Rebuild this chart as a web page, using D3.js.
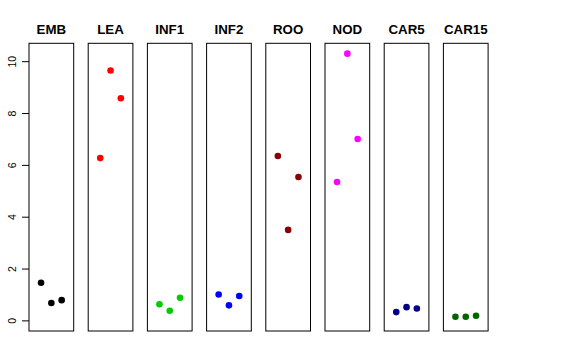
<!DOCTYPE html>
<html>
<head>
<meta charset="utf-8">
<script src="https://cdn.jsdelivr.net/npm/d3@7"></script>
<style>
  body { margin: 0; background: #fff; }
  svg { display: block; }
</style>
</head>
<body>
<div class="chart"></div>
<script>
// tissues shown as panels, three replicates each
var tissues = ["EMB", "LEA", "INF1", "INF2", "ROO", "NOD", "CAR5", "CAR15"];
var colors = ["#000000", "#ff0000", "#00cd00", "#0000ff", "#8b0000", "#ff00ff", "#00008b", "#006400"];
var reps = ["1", "2", "3"];
var values = [
  [1.45, 0.67, 0.78],
  [6.26, 9.64, 8.57],
  [0.62, 0.37, 0.87],
  [1.00, 0.58, 0.94],
  [6.34, 3.49, 5.53],
  [5.34, 10.29, 7.00],
  [0.32, 0.51, 0.46],
  [0.14, 0.14, 0.18]
];
var yTicks = [0, 2, 4, 6, 8, 10];

var svgWidth = 576, svgHeight = 360;
var plotTop = 43.3, plotBottom = 331;

var svg = d3.select(".chart")
  .append("svg")
  .attr("width", svgWidth)
  .attr("height", svgHeight);

// scales
var xBand = d3.scaleBand()
  .domain(tissues)
  .range([29, 488.1])
  .paddingInner(0.245);

var xRep = d3.scalePoint()
  .domain(reps)
  .range([0, xBand.bandwidth()])
  .padding(1.17);

var yScale = d3.scaleLinear()
  .domain([-0.41, 10.69])
  .range([plotBottom, plotTop]);

// y axis on the left of the first panel
var yAxis = d3.axisLeft(yScale)
  .tickValues(yTicks)
  .tickSize(7)
  .tickFormat(d3.format("d"));

var axisG = svg.append("g")
  .attr("transform", "translate(" + xBand(tissues[0]) + ",0)")
  .call(yAxis);

axisG.select(".domain").remove();
axisG.selectAll(".tick line").attr("stroke", "#000");
axisG.selectAll(".tick text")
  .attr("font-family", "'Liberation Sans', Arial, sans-serif")
  .attr("font-size", "10.5px")
  .attr("fill", "#000")
  .attr("x", 0)
  .attr("y", 0)
  .attr("dy", null)
  .attr("text-anchor", "middle")
  .attr("transform", "translate(-13,0) rotate(-90)");

// panels
var panels = svg.selectAll(".panel")
  .data(tissues)
  .enter()
  .append("g")
  .attr("class", "panel")
  .attr("transform", function(d) { return "translate(" + xBand(d) + ",0)"; });

panels.append("rect")
  .attr("x", 0)
  .attr("y", plotTop)
  .attr("width", xBand.bandwidth())
  .attr("height", plotBottom - plotTop)
  .attr("fill", "none")
  .attr("stroke", "#000")
  .attr("stroke-width", 1);

panels.append("text")
  .attr("x", xBand.bandwidth() / 2)
  .attr("y", 34)
  .attr("text-anchor", "middle")
  .attr("font-family", "'Liberation Sans', Arial, sans-serif")
  .attr("font-weight", "bold")
  .attr("font-size", "13.3px")
  .attr("fill", "#000")
  .text(function(d) { return d; });

panels.selectAll("circle")
  .data(function(d, i) {
    return values[i].map(function(v, j) { return { rep: reps[j], value: v, color: colors[i] }; });
  })
  .enter()
  .append("circle")
  .attr("cx", function(d) { return xRep(d.rep); })
  .attr("cy", function(d) { return yScale(d.value); })
  .attr("r", 3.3)
  .attr("fill", function(d) { return d.color; });
</script>
</body>
</html>
